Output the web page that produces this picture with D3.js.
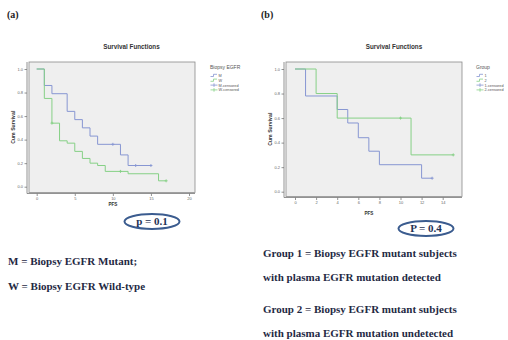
<!DOCTYPE html>
<html>
<head>
<meta charset="utf-8">
<script src="https://cdn.jsdelivr.net/npm/d3@7"></script>
<style>
  body { margin: 0; background: #fff; }
  svg { display: block; }
</style>
</head>
<body>
<div id="chart"></div>
<script>
// ---- data ----
// panel (a): Biopsy EGFR
const mutantTimes = [0, 1, 2, 4, 5, 6, 7, 8, 11, 12];
const mutantSurv = [1.0, 0.86, 0.79, 0.64, 0.57, 0.50, 0.43, 0.36, 0.27, 0.18];
const mutantEnd = 15;
const mutantCensorTimes = [10, 13, 15];
const mutantCensorSurv = [0.36, 0.18, 0.18];

const wildTimes = [0, 1, 2, 3, 4, 5, 6, 7, 8, 9, 12, 16];
const wildSurv = [1.0, 0.75, 0.54, 0.39, 0.37, 0.30, 0.24, 0.20, 0.18, 0.13, 0.11, 0.05];
const wildEnd = 17;
const wildCensorTimes = [2, 11, 17];
const wildCensorSurv = [0.54, 0.13, 0.05];

// panel (b): Group
const group1Times = [0, 1, 4, 5, 6, 7, 8, 12];
const group1Surv = [1.0, 0.78, 0.67, 0.56, 0.44, 0.33, 0.22, 0.11];
const group1End = 13;
const group1CensorTimes = [13];
const group1CensorSurv = [0.11];

const group2Times = [0, 2, 4, 11];
const group2Surv = [1.0, 0.8, 0.6, 0.3];
const group2End = 15;
const group2CensorTimes = [10, 15];
const group2CensorSurv = [0.6, 0.3];

const xTicksA = [0, 5, 10, 15, 20];
const xTicksB = [0, 2, 4, 6, 8, 10, 12, 14];
const yTicks = [0.0, 0.2, 0.4, 0.6, 0.8, 1.0];

const legendA = ['M', 'W', 'M-censored', 'W-censored'];
const legendB = ['1', '2', '1-censored', '2-censored'];

const BLUE = '#8796d2';
const GREEN = '#86d086';
const SANS = 'Liberation Sans, Arial, sans-serif';
const SERIF = 'Liberation Serif, Times New Roman, serif';

const W = 508, H = 340;
const svg = d3.select('#chart').append('svg')
  .attr('width', W).attr('height', H);

function toSteps(times, surv, end) {
  const pts = times.map((t, i) => ({ t: t, s: surv[i] }));
  pts.push({ t: end, s: surv[surv.length - 1] });
  return pts;
}

function drawPanel(cfg) {
  const g = svg.append('g');
  const box = cfg.box;

  const x = d3.scaleLinear().domain(cfg.xDomain).range(cfg.xRange);
  const y = d3.scaleLinear().domain([0, 1]).range(cfg.yRange);

  // plot area
  g.append('rect')
    .attr('x', box.x0).attr('y', box.y0)
    .attr('width', box.x1 - box.x0).attr('height', box.y1 - box.y0)
    .attr('fill', '#efefef')
    .attr('stroke', '#8a8a8a')
    .attr('stroke-width', 0.8);

  // axes
  const yAxis = g.append('g')
    .attr('transform', `translate(${box.x0 - 2},0)`)
    .call(d3.axisLeft(y).tickValues(yTicks).tickFormat(d3.format('.1f'))
      .tickSize(2.5).tickSizeOuter(0).tickPadding(1.5));
  const xAxis = g.append('g')
    .attr('transform', `translate(0,${box.y1 + 1})`)
    .call(d3.axisBottom(x).tickValues(cfg.xTicks).tickFormat(d3.format('d'))
      .tickSize(2.5).tickSizeOuter(0).tickPadding(1));
  [yAxis, xAxis].forEach(a => {
    a.selectAll('.tick line').attr('stroke', '#777').attr('stroke-width', 0.8);
    a.selectAll('.tick text').attr('fill', '#666')
      .style('font-family', SANS).style('font-size', '4px');
  });
  // stretch axis lines to the box
  yAxis.select('.domain').attr('stroke', '#777').attr('stroke-width', 0.8)
    .attr('d', `M0,${box.y0}V${box.y1 + 1}`);
  xAxis.select('.domain').attr('stroke', '#777').attr('stroke-width', 0.8)
    .attr('d', `M${box.x0 - 2},0H${box.x1}`);

  // curves
  const line = d3.line()
    .x(d => x(d.t)).y(d => y(d.s))
    .curve(d3.curveStepAfter);

  cfg.series.forEach(sr => {
    g.append('path')
      .datum(toSteps(sr.times, sr.surv, sr.end))
      .attr('fill', 'none')
      .attr('stroke', sr.color)
      .attr('stroke-width', 1)
      .attr('d', line);

    const cens = sr.censorTimes.map((t, i) => ({ t: t, s: sr.censorSurv[i] }));
    g.append('g').selectAll('path')
      .data(cens)
      .enter()
      .append('path')
      .attr('fill', 'none')
      .attr('stroke', sr.color)
      .attr('stroke-width', 0.9)
      .attr('d', d => `M${x(d.t) - 1.5},${y(d.s)}h3M${x(d.t)},${y(d.s) - 1.5}v3`);
  });

  // title
  g.append('text')
    .attr('x', cfg.titleX).attr('y', 49)
    .attr('text-anchor', 'middle')
    .style('font-family', SANS).style('font-size', '6.3px').style('font-weight', 'bold')
    .attr('fill', '#333')
    .text('Survival Functions');

  // axis titles
  g.append('text')
    .attr('transform', `translate(${cfg.yLabelX},${(box.y0 + box.y1) / 2}) rotate(-90)`)
    .attr('text-anchor', 'middle')
    .style('font-family', SANS).style('font-size', '5.2px').style('font-weight', 'bold')
    .attr('fill', '#333')
    .text('Cum Survival');
  g.append('text')
    .attr('x', (cfg.xRange[0] + cfg.xRange[1]) / 2).attr('y', cfg.xLabelY)
    .attr('text-anchor', 'middle')
    .style('font-family', SANS).style('font-size', '4.6px').style('font-weight', 'bold')
    .attr('fill', '#333')
    .text('PFS');

  // legend
  const lg = g.append('g').attr('transform', `translate(${cfg.legendX},67)`);
  lg.append('text')
    .attr('x', 0).attr('y', 2)
    .style('font-family', SANS).style('font-size', '5px')
    .attr('fill', '#555')
    .text(cfg.legendTitle);
  const colors = [BLUE, GREEN, BLUE, GREEN];
  cfg.legend.forEach((lab, i) => {
    const yy = 8.5 + i * 4.8;
    const c = colors[i];
    if (i < 2) {
      lg.append('path')
        .attr('fill', 'none').attr('stroke', c).attr('stroke-width', 0.8)
        .attr('d', `M0.5,${yy + 1}h3v-2.2h3.5`);
    } else {
      lg.append('path')
        .attr('fill', 'none').attr('stroke', c).attr('stroke-width', 0.8)
        .attr('d', `M0.5,${yy}h7M4,${yy - 1.8}v3.6`);
    }
    lg.append('text')
      .attr('x', 8.5).attr('y', yy + 1.4)
      .style('font-family', SANS).style('font-size', '3.8px')
      .attr('fill', '#555')
      .text(lab);
  });

  // panel tag
  svg.append('text')
    .attr('x', cfg.tagX).attr('y', 18)
    .style('font-family', SERIF).style('font-size', '10px').style('font-weight', 'bold')
    .attr('fill', '#222')
    .text(cfg.tag);

  // p-value oval
  svg.append('ellipse')
    .attr('cx', cfg.pCx).attr('cy', cfg.pCy)
    .attr('rx', 27.5).attr('ry', 7.5)
    .attr('fill', 'none').attr('stroke', '#3b5c8f').attr('stroke-width', 2);
  svg.append('text')
    .attr('x', cfg.pCx).attr('y', cfg.pCy + 3.8)
    .attr('text-anchor', 'middle')
    .style('font-family', SERIF).style('font-size', '11px').style('font-weight', 'bold')
    .attr('fill', '#1f3355')
    .text(cfg.pText);
}

drawPanel({
  box: { x0: 29, x1: 195, y0: 62, y1: 192.5 },
  xDomain: [0, 20], xRange: [36.7, 189],
  yRange: [186.7, 69],
  xTicks: xTicksA,
  series: [
    { times: mutantTimes, surv: mutantSurv, end: mutantEnd, censorTimes: mutantCensorTimes, censorSurv: mutantCensorSurv, color: BLUE },
    { times: wildTimes, surv: wildSurv, end: wildEnd, censorTimes: wildCensorTimes, censorSurv: wildCensorSurv, color: GREEN }
  ],
  titleX: 131.5,
  yLabelX: 15,
  xLabelY: 206,
  legendX: 210,
  legendTitle: 'Biopsy EGFR',
  legend: legendA,
  tag: '(a)', tagX: 7,
  pCx: 152, pCy: 221.5, pText: 'p = 0.1'
});

drawPanel({
  box: { x0: 286, x1: 462, y0: 62, y1: 196.5 },
  xDomain: [0, 14], xRange: [295, 442.7],
  yRange: [191.7, 69],
  xTicks: xTicksB,
  series: [
    { times: group1Times, surv: group1Surv, end: group1End, censorTimes: group1CensorTimes, censorSurv: group1CensorSurv, color: BLUE },
    { times: group2Times, surv: group2Surv, end: group2End, censorTimes: group2CensorTimes, censorSurv: group2CensorSurv, color: GREEN }
  ],
  titleX: 394,
  yLabelX: 272,
  xLabelY: 214.5,
  legendX: 476,
  legendTitle: 'Group',
  legend: legendB,
  tag: '(b)', tagX: 261,
  pCx: 426, pCy: 228.5, pText: 'P = 0.4'
});

// footnotes
const notes = [
  { x: 8, y: 265, text: 'M = Biopsy EGFR Mutant;' },
  { x: 8, y: 290, text: 'W = Biopsy EGFR Wild-type' },
  { x: 263, y: 256.5, text: 'Group 1 = Biopsy EGFR mutant subjects' },
  { x: 263, y: 280.5, text: 'with plasma EGFR mutation detected' },
  { x: 263, y: 313, text: 'Group 2 = Biopsy EGFR mutant subjects' },
  { x: 263, y: 336.5, text: 'with plasma EGFR mutation undetected' }
];
svg.append('g').selectAll('text')
  .data(notes)
  .enter()
  .append('text')
  .attr('x', d => d.x).attr('y', d => d.y)
  .style('font-family', SERIF).style('font-size', '11px').style('font-weight', 'bold')
  .attr('fill', '#1f2a44')
  .text(d => d.text);
</script>
</body>
</html>
